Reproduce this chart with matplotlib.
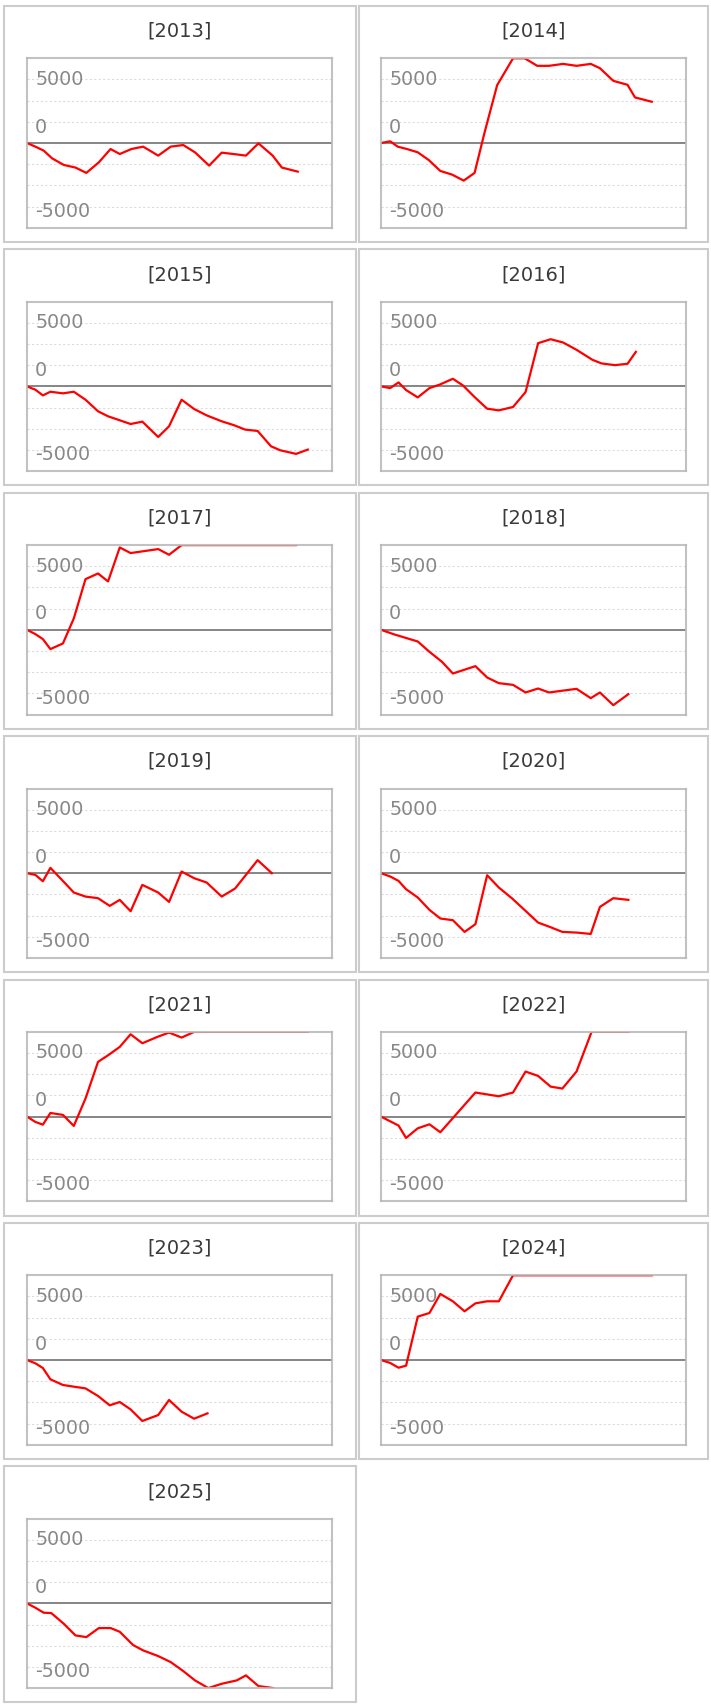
import matplotlib.pyplot as plt
from matplotlib.patches import Rectangle

# cumulative value per year, x = day of year
years = list(range(2013, 2026))

days_2013 = [0, 10, 20, 30, 44, 58, 71, 86, 100, 111, 125, 139, 157, 172, 187, 201, 218, 233, 247, 262, 277, 294, 305, 324]
vals_2013 = [0, -430, -900, -1810, -2590, -2900, -3530, -2280, -710, -1300, -710, -430, -1490, -430, -240, -1100, -2670, -1140, -1300, -1490, -40, -1490, -2900, -3380]

days_2014 = [0, 11, 20, 31, 44, 57, 71, 85, 99, 112, 124, 139, 158, 172, 187, 201, 218, 234, 251, 262, 278, 295, 304, 324]
vals_2014 = [0, 200, -430, -710, -1100, -2000, -3300, -3730, -4440, -3530, 1260, 6830, 10000, 10000, 9110, 9110, 9340, 9110, 9340, 8830, 7340, 6870, 5380, 4870]

days_2015 = [0, 10, 19, 28, 43, 56, 70, 85, 97, 111, 124, 138, 157, 170, 185, 200, 215, 233, 248, 261, 276, 292, 303, 322, 336]
vals_2015 = [0, -390, -1060, -630, -820, -630, -1570, -2940, -3530, -4000, -4440, -4160, -5970, -4710, -1570, -2670, -3420, -4120, -4590, -5100, -5260, -7070, -7540, -7970, -7460]

days_2016 = [0, 11, 21, 30, 44, 58, 70, 86, 98, 112, 127, 141, 158, 173, 188, 203, 218, 234, 253, 264, 280, 295, 305]
vals_2016 = [0, -200, 470, -430, -1300, -200, 200, 900, 120, -1260, -2630, -2830, -2430, -670, 5100, 5570, 5180, 4320, 3140, 2710, 2510, 2670, 4080]

days_2017 = [0, 10, 19, 28, 43, 56, 70, 85, 97, 111, 124, 157, 170, 185, 322]
vals_2017 = [0, -510, -1100, -2280, -1610, 1340, 5980, 6650, 5710, 9720, 9060, 9530, 8860, 10000, 10000]

days_2018 = [0, 16, 44, 58, 73, 86, 113, 127, 141, 158, 173, 188, 201, 234, 251, 262, 278, 296]
vals_2018 = [0, -550, -1380, -2600, -3780, -5160, -4290, -5630, -6300, -6500, -7400, -6930, -7400, -6970, -8070, -7400, -8900, -7600]

days_2019 = [0, 10, 19, 28, 41, 56, 70, 85, 99, 111, 124, 138, 157, 170, 185, 200, 215, 233, 249, 276, 293]
vals_2019 = [0, -200, -950, 630, -710, -2280, -2760, -2950, -3860, -3150, -4490, -1380, -2280, -3390, 200, -590, -1100, -2760, -1810, 1540, 0]

days_2020 = [0, 11, 21, 30, 44, 58, 71, 86, 100, 113, 127, 141, 157, 173, 188, 202, 217, 234, 251, 262, 278, 296]
vals_2020 = [0, -390, -910, -1890, -2870, -4330, -5350, -5550, -6930, -6020, -240, -1690, -2990, -4450, -5830, -6340, -6930, -7010, -7170, -3980, -2950, -3150]

days_2021 = [0, 10, 19, 28, 43, 56, 70, 85, 97, 111, 124, 138, 157, 170, 185, 200, 336]
vals_2021 = [0, -630, -950, 430, 200, -1100, 2130, 6460, 7240, 8230, 9720, 8660, 9450, 9920, 9330, 10000, 10000]

days_2022 = [0, 21, 30, 44, 58, 71, 113, 141, 158, 173, 188, 203, 217, 234, 252, 296]
vals_2022 = [0, -1060, -2520, -1380, -910, -1850, 2840, 2400, 2840, 5320, 4800, 3540, 3310, 5320, 10000, 10000]

days_2023 = [0, 10, 19, 28, 43, 56, 70, 85, 99, 111, 124, 138, 157, 170, 185, 200, 216]
vals_2023 = [0, -390, -950, -2280, -2950, -3150, -3350, -4250, -5350, -4960, -5830, -7200, -6500, -4720, -6100, -6930, -6300]

days_2024 = [0, 11, 21, 30, 44, 58, 71, 86, 100, 113, 127, 141, 158, 324]
vals_2024 = [0, -350, -910, -670, 5120, 5550, 7800, 6930, 5750, 6690, 6930, 6930, 10000, 10000]

days_2025 = [0, 10, 20, 29, 44, 58, 71, 86, 100, 111, 127, 139, 157, 172, 187, 201, 217, 233, 251, 262, 277, 295]
vals_2025 = [0, -510, -1100, -1140, -2400, -3780, -3980, -2910, -2910, -3350, -4920, -5550, -6220, -6930, -7990, -9090, -10000, -9490, -9090, -8500, -9760, -10000]

series = {
    2013: (days_2013, vals_2013), 2014: (days_2014, vals_2014),
    2015: (days_2015, vals_2015), 2016: (days_2016, vals_2016),
    2017: (days_2017, vals_2017), 2018: (days_2018, vals_2018),
    2019: (days_2019, vals_2019), 2020: (days_2020, vals_2020),
    2021: (days_2021, vals_2021), 2022: (days_2022, vals_2022),
    2023: (days_2023, vals_2023), 2024: (days_2024, vals_2024),
    2025: (days_2025, vals_2025),
}

y_labels = ["5000", "0", "-5000"]
y_label_pos = [7000, 1350, -8600]   # where the labels sit (quirky, as in the source)
grid_vals = [-7500, -5000, -2500, 2500, 5000, 7500]

W, H = 711, 1708
pitch = 243.4
panel_x = [(4, 356), (359, 708)]
axes_x = [(27, 332), (381, 686)]

plt.rcParams['font.family'] = ['DejaVu Sans']
fig = plt.figure(figsize=(W / 100, H / 100), dpi=100)


def px_rect(x0, y0, x1, y1):
    """pixel box (top-left origin) -> figure fraction [l, b, w, h]"""
    return [x0 / W, 1 - y1 / H, (x1 - x0) / W, (y1 - y0) / H]


for i, yr in enumerate(years):
    r, c = divmod(i, 2)
    off = pitch * r

    # panel frame
    l, b, w, h = px_rect(panel_x[c][0], 7 + off, panel_x[c][1], 243 + off)
    fig.add_artist(Rectangle((l, b), w, h, transform=fig.transFigure,
                             fill=False, ec='#cccccc', lw=1.5))

    # title
    fig.text((panel_x[c][0] + panel_x[c][1]) / 2 / W, 1 - (36.7 + off) / H,
             "[%d]" % yr, ha='center', va='baseline', fontsize=14,
             color='#3a3a3a')

    ax = fig.add_axes(px_rect(axes_x[c][0], 59.3 + off, axes_x[c][1], 228.7 + off))
    ax.set_xlim(0, 365)
    ax.set_ylim(-10000, 10000)
    ax.set_xticks([])
    ax.set_yticks([])
    # semi-opaque frame so clipped segments show through as pink
    for sp in ax.spines.values():
        sp.set_color((0.72, 0.72, 0.72, 0.85))
        sp.set_linewidth(1.5)
        sp.set_zorder(5)

    for g in grid_vals:
        ax.axhline(g, color='#dcdcdc', lw=0.8, ls=(0, (2, 2)), zorder=0)
    ax.axhline(0, color='#858585', lw=1.4, zorder=1)

    for lab, pos in zip(y_labels, y_label_pos):
        ax.text(0.027, pos, lab, transform=ax.get_yaxis_transform(),
                ha='left', va='baseline', fontsize=13.8, color='#888888')

    d, v = series[yr]
    ax.plot(d, v, color='#ff0000', lw=1.6, zorder=3)

fig.savefig("out.png", dpi=100)
